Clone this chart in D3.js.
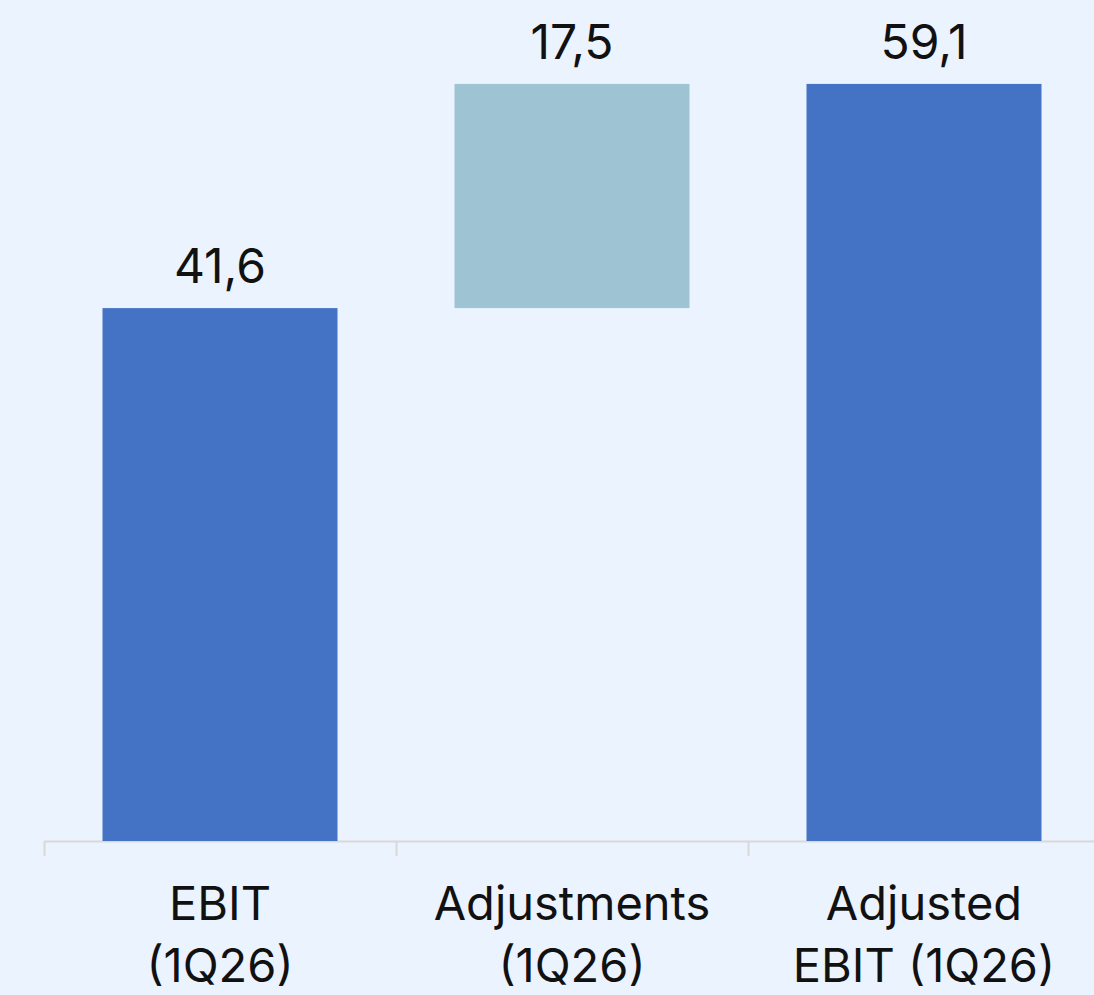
<!DOCTYPE html>
<html>
<head>
<meta charset="utf-8">
<script src="https://cdn.jsdelivr.net/npm/d3@7"></script>
<style>
  html, body { margin: 0; padding: 0; background: #ebf3fe; }
  svg { display: block; }
</style>
</head>
<body>
<div id="chart"></div>
<script>
// Chart data
var categories = ["EBIT (1Q26)", "Adjustments (1Q26)", "Adjusted EBIT (1Q26)"];
var labelLines = [["EBIT", "(1Q26)"], ["Adjustments", "(1Q26)"], ["Adjusted", "EBIT (1Q26)"]];
var values = [41.6, 17.5, 59.1];
var kinds = ["total", "delta", "total"];
var valueLabels = ["41,6", "17,5", "59,1"];

var svgWidth = 1094;
var svgHeight = 995;
var baseY = 841;

var svg = d3.select("#chart")
    .append("svg")
    .attr("width", svgWidth)
    .attr("height", svgHeight);

svg.append("rect")
    .attr("width", svgWidth)
    .attr("height", svgHeight)
    .attr("fill", "#ebf3fe");

// build waterfall rows
var running = 0;
var rows = categories.map(function (c, i) {
    var start, end;
    if (kinds[i] === "total") {
        start = 0; end = values[i]; running = values[i];
    } else {
        start = running; end = running + values[i]; running = end;
    }
    return { cat: c, start: start, end: end, kind: kinds[i], label: valueLabels[i], lines: labelLines[i] };
});

var x = d3.scaleBand()
    .domain(categories)
    .range([44, 1100])
    .paddingInner(0.3324)
    .paddingOuter(0.1662);

var y = d3.scaleLinear()
    .domain([0, 65.65])
    .range([baseY, 0]);

var gap = (x.step() - x.bandwidth()) / 2;

// axis line + boundary ticks
svg.append("line")
    .attr("x1", 44).attr("x2", svgWidth)
    .attr("y1", baseY + 0.5).attr("y2", baseY + 0.5)
    .attr("stroke", "#d9d9d9")
    .attr("stroke-width", 2);

svg.selectAll(".tick")
    .data(categories)
    .enter()
    .append("line")
    .attr("class", "tick")
    .attr("x1", d => Math.round(x(d) - gap) + 0.5)
    .attr("x2", d => Math.round(x(d) - gap) + 0.5)
    .attr("y1", baseY)
    .attr("y2", baseY + 15)
    .attr("stroke", "#d9d9d9")
    .attr("stroke-width", 2);

// bars
svg.selectAll(".bar")
    .data(rows)
    .enter()
    .append("rect")
    .attr("class", "bar")
    .attr("x", d => x(d.cat))
    .attr("width", x.bandwidth())
    .attr("y", d => y(d.end))
    .attr("height", d => y(d.start) - y(d.end))
    .attr("fill", d => d.kind === "total" ? "#4472c4" : "#9ec3d2");

// value labels
svg.selectAll(".val")
    .data(rows)
    .enter()
    .append("text")
    .attr("class", "val")
    .attr("x", d => x(d.cat) + x.bandwidth() / 2)
    .attr("y", d => y(d.end) - 25)
    .attr("text-anchor", "middle")
    .attr("font-family", "Inter, 'Noto Sans', sans-serif")
    .attr("font-size", "48px")
    .attr("fill", "#111111")
    .text(d => d.label);

// category labels
var cat = svg.selectAll(".cat")
    .data(rows)
    .enter()
    .append("text")
    .attr("class", "cat")
    .attr("text-anchor", "middle")
    .attr("font-family", "Inter, 'Noto Sans', sans-serif")
    .attr("font-size", "47px")
    .attr("fill", "#111111");

cat.selectAll("tspan")
    .data(d => d.lines.map(function (l) { return { line: l, cat: d.cat }; }))
    .enter()
    .append("tspan")
    .attr("x", d => x(d.cat) + x.bandwidth() / 2)
    .attr("y", (d, i) => 920 + i * 62)
    .text(d => d.line);
</script>
</body>
</html>
